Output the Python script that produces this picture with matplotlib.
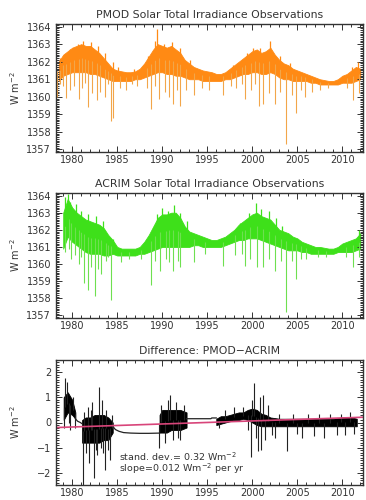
import numpy as np
import matplotlib
matplotlib.use("Agg")
import matplotlib.pyplot as plt
from matplotlib.ticker import MultipleLocator

# ---- data (W m^-2), half-year envelope of the daily record ----
pmod_years = np.arange(1978.5, 2012.01, 0.5)
pmod_hi = [1362.0, 1362.4, 1362.6, 1362.8, 1362.9, 1363.0, 1362.9, 1362.9, 1362.7, 1362.5,
           1362.2, 1361.9, 1361.6, 1361.5, 1361.45, 1361.4, 1361.4, 1361.45, 1361.6, 1361.9,
           1362.3, 1362.7, 1363.0, 1362.9, 1362.8, 1362.9, 1362.7, 1362.5, 1362.1, 1361.9,
           1361.7, 1361.6, 1361.5, 1361.45, 1361.4, 1361.3, 1361.3, 1361.4, 1361.6, 1361.8,
           1362.0, 1362.2, 1362.4, 1362.6, 1362.7, 1362.5, 1362.6, 1362.8, 1362.4, 1362.1,
           1361.9, 1361.8, 1361.6, 1361.5, 1361.4, 1361.3, 1361.2, 1361.1, 1361.0, 1360.95,
           1360.9, 1360.9, 1361.0, 1361.2, 1361.3, 1361.5, 1361.7, 1361.6]
pmod_lo = [1360.9, 1361.2, 1361.3, 1361.4, 1361.4, 1361.4, 1361.4, 1361.3, 1361.3, 1361.2,
           1361.1, 1361.0, 1360.9, 1360.9, 1360.9, 1360.9, 1360.9, 1361.0, 1361.0, 1361.1,
           1361.2, 1361.3, 1361.4, 1361.4, 1361.3, 1361.3, 1361.2, 1361.2, 1361.1, 1361.0,
           1361.0, 1361.0, 1360.9, 1360.9, 1360.9, 1360.9, 1360.9, 1361.0, 1361.0, 1361.1,
           1361.2, 1361.3, 1361.3, 1361.4, 1361.4, 1361.3, 1361.3, 1361.4, 1361.3, 1361.1,
           1361.0, 1361.0, 1360.9, 1360.9, 1360.9, 1360.9, 1360.8, 1360.8, 1360.7, 1360.7,
           1360.7, 1360.7, 1360.7, 1360.8, 1360.8, 1360.8, 1360.9, 1361.0]
pmod_dip_t = [1978.3, 1978.6, 1979.0, 1979.3, 1979.8, 1980.2, 1980.7, 1981.1, 1981.4, 1981.8,
              1982.2, 1982.7, 1983.1, 1983.6, 1984.0, 1984.3, 1984.5, 1985.3, 1986.0, 1986.6,
              1987.2, 1988.3, 1988.7, 1989.2, 1989.6, 1990.3, 1990.8, 1991.2, 1991.6, 1992.0,
              1992.6, 1993.5, 1994.4, 1995.2, 1996.8, 1997.6, 1998.2, 1998.8, 1999.2, 1999.8,
              2000.3, 2000.7, 2001.2, 2001.8, 2002.5, 2003.1, 2003.7, 2004.4, 2004.9, 2005.4,
              2005.8, 2006.6, 2007.5, 2008.4, 2010.5, 2011.2, 2011.9]
pmod_dip_v = [1360.0, 1360.7, 1360.6, 1359.95, 1360.4, 1360.6, 1359.9, 1360.5, 1360.8, 1359.4,
              1360.2, 1359.8, 1360.3, 1360.0, 1360.7, 1358.6, 1358.8, 1360.5, 1360.4, 1360.7,
              1360.6, 1360.5, 1359.3, 1360.6, 1359.9, 1360.3, 1360.0, 1359.6, 1360.4, 1359.5,
              1360.4, 1360.1, 1360.5, 1360.4, 1360.1, 1360.6, 1360.5, 1360.7, 1359.9, 1360.4,
              1360.7, 1359.5, 1359.6, 1360.2, 1359.6, 1360.3, 1357.3, 1360.1, 1359.1, 1360.4,
              1360.0, 1360.3, 1360.4, 1360.5, 1360.5, 1359.8, 1360.2]
pmod_peak_t = [1978.6, 1979.7, 1980.6, 1981.2, 1982.1, 1982.9, 1983.6, 1984.5, 1985.1, 1986.9,
               1988.4, 1989.2, 1989.45, 1990.2, 1991.1, 1992.0, 1993.1, 1997.9, 1999.4, 2000.1,
               2000.9, 2002.0, 2003.1, 2004.2, 2011.1, 2011.7]
pmod_peak_v = [1362.2, 1362.7, 1363.0, 1363.2, 1363.1, 1362.9, 1362.5, 1362.0, 1361.7, 1361.6,
               1362.3, 1363.2, 1363.85, 1363.0, 1363.1, 1362.8, 1362.1, 1361.8, 1362.5, 1362.8,
               1362.8, 1363.2, 1362.3, 1361.9, 1361.7, 1362.0]

acrim_years = np.arange(1979.0, 2012.01, 0.5)
acrim_hi = [1363.0, 1363.8, 1363.3, 1363.0, 1362.8, 1362.6, 1362.5, 1362.4, 1362.3, 1362.1,
            1361.7, 1361.4, 1361.0, 1360.9, 1360.9, 1360.9, 1360.9, 1361.0, 1361.3, 1361.7,
            1362.2, 1362.7, 1362.9, 1362.9, 1363.0, 1363.0, 1362.7, 1362.2, 1361.9, 1361.8,
            1361.7, 1361.6, 1361.5, 1361.4, 1361.4, 1361.5, 1361.6, 1361.8, 1362.0, 1362.3,
            1362.5, 1362.7, 1362.9, 1363.0, 1362.8, 1362.7, 1362.6, 1362.3, 1362.0, 1361.9,
            1361.8, 1361.6, 1361.5, 1361.3, 1361.2, 1361.1, 1361.0, 1361.0, 1360.95, 1360.9,
            1360.9, 1361.0, 1361.2, 1361.3, 1361.4, 1361.5, 1361.8]
acrim_lo = [1360.9, 1361.6, 1361.3, 1361.1, 1360.9, 1360.7, 1360.6, 1360.6, 1360.6, 1360.5,
            1360.5, 1360.6, 1360.5, 1360.5, 1360.5, 1360.5, 1360.5, 1360.6, 1360.6, 1360.7,
            1360.8, 1360.9, 1361.0, 1361.0, 1361.0, 1361.0, 1361.0, 1361.0, 1361.0, 1361.1,
            1361.1, 1361.0, 1361.0, 1361.0, 1361.0, 1361.0, 1361.1, 1361.2, 1361.3, 1361.4,
            1361.4, 1361.5, 1361.5, 1361.5, 1361.4, 1361.3, 1361.2, 1361.1, 1361.0, 1360.9,
            1360.8, 1360.8, 1360.8, 1360.7, 1360.7, 1360.6, 1360.6, 1360.6, 1360.6, 1360.6,
            1360.6, 1360.7, 1360.7, 1360.7, 1360.7, 1360.8, 1360.9]
acrim_dip_t = [1979.2, 1979.6, 1979.9, 1980.3, 1980.7, 1981.0, 1981.3, 1981.8, 1982.1, 1982.5,
               1982.9, 1983.2, 1983.7, 1984.0, 1984.3, 1985.4, 1986.3, 1987.6, 1988.7, 1989.2,
               1989.7, 1990.4, 1990.8, 1991.2, 1991.7, 1992.0, 1993.5, 1994.8, 1996.8, 1998.1,
               1998.8, 1999.2, 1999.7, 2000.5, 2001.2, 2001.9, 2002.5, 2003.2, 2003.7, 2004.4,
               2004.9, 2005.4, 2006.0, 2007.3, 2008.2, 2010.4, 2011.2, 2011.8]
acrim_dip_v = [1360.7, 1360.9, 1360.3, 1360.5, 1360.0, 1360.4, 1358.9, 1358.5, 1359.8, 1358.15,
               1359.7, 1359.4, 1360.2, 1360.4, 1357.9, 1360.1, 1360.3, 1360.3, 1358.8, 1360.2,
               1359.6, 1360.3, 1360.1, 1359.6, 1360.2, 1359.8, 1360.1, 1360.6, 1359.9, 1360.5,
               1360.6, 1359.9, 1360.3, 1359.8, 1359.8, 1360.3, 1359.6, 1360.2, 1357.2, 1360.2,
               1359.1, 1360.3, 1360.3, 1360.4, 1360.4, 1360.4, 1359.8, 1360.4]
acrim_peak_t = [1979.2, 1979.5, 1979.8, 1980.4, 1981.0, 1981.7, 1982.6, 1983.4, 1984.5, 1989.4,
                1990.0, 1990.6, 1991.3, 1992.0, 1992.8, 1998.6, 1999.6, 2000.4, 2001.0, 2001.8,
                2002.6, 2003.3, 2011.8]
acrim_peak_v = [1363.9, 1364.1, 1363.6, 1363.5, 1363.1, 1362.9, 1362.8, 1362.5, 1361.45, 1362.9,
                1363.3, 1363.1, 1363.45, 1363.0, 1362.5, 1362.4, 1363.0, 1363.55, 1363.2, 1363.1,
                1362.7, 1362.2, 1362.0]

# difference PMOD-ACRIM: noisy stretches (envelope) and the quiet, smoothed stretches
diff_noisy_t = [[1979.05, 1979.5, 1980.0, 1980.35],
                [1981.1, 1981.5, 1982.0, 1982.5, 1983.0, 1983.5, 1984.0, 1984.5],
                [1989.7, 1990.0, 1990.5, 1991.0, 1991.5, 1992.0, 1992.7],
                [1996.0, 1996.5, 1997.0, 1997.5, 1998.0, 1998.5, 1999.0, 1999.5, 2000.0,
                 2000.5, 2001.0, 2001.5, 2002.0, 2003.0, 2004.0, 2005.0, 2006.0, 2007.0,
                 2008.0, 2009.0, 2010.0, 2011.0, 2011.6]]
diff_noisy_hi = [[1.0, 1.2, 0.9, 0.4],
                 [0.1, 0.2, 0.2, 0.3, 0.3, 0.3, 0.2, 0.0],
                 [0.3, 0.5, 0.5, 0.5, 0.5, 0.5, 0.4],
                 [0.15, 0.25, 0.25, 0.3, 0.35, 0.4, 0.4, 0.5, 0.55, 0.5, 0.35, 0.3, 0.2,
                  0.15, 0.15, 0.15, 0.15, 0.15, 0.15, 0.15, 0.2, 0.2, 0.15]]
diff_noisy_lo = [[0.1, 0.4, 0.3, 0.15],
                 [-0.8, -0.8, -0.8, -0.8, -0.8, -0.7, -0.7, -0.4],
                 [-0.4, -0.4, -0.4, -0.3, -0.3, -0.3, -0.2],
                 [-0.1, -0.05, 0.0, 0.05, 0.1, 0.1, 0.15, 0.1, 0.0, -0.1, -0.15, -0.15, -0.15,
                  -0.15, -0.15, -0.15, -0.15, -0.15, -0.15, -0.15, -0.15, -0.15, -0.15]]
diff_quiet_t = [[1980.35, 1980.6, 1980.9, 1981.1],
                [1984.5, 1984.8, 1985.2, 1985.7, 1986.5, 1987.5, 1988.5, 1989.7],
                [1992.7, 1995.4, 1995.5, 1996.0]]
diff_quiet_v = [[0.15, 0.05, 0.0, -0.05],
                [-0.15, -0.28, -0.35, -0.4, -0.42, -0.43, -0.43, -0.42],
                [0.15, 0.15, 0.18, 0.18]]
diff_spike_t = [1979.1, 1979.2, 1979.4, 1979.6, 1979.8, 1980.1, 1980.3, 1981.2, 1981.35, 1981.5,
                1981.7, 1981.9, 1982.1, 1982.2, 1982.4, 1982.6, 1982.8, 1983.0, 1983.15, 1983.3,
                1983.45, 1983.6, 1983.8, 1984.0, 1984.2, 1984.4,
                1989.6, 1989.9, 1990.3, 1990.6, 1990.9, 1991.2, 1991.5, 1991.8, 1992.0, 1992.4,
                1996.3, 1997.0, 1998.0, 1999.0, 1999.5, 1999.8, 2000.0, 2000.2, 2000.4, 2000.6,
                2000.8, 2001.0, 2001.2, 2001.4, 2001.7, 2002.2, 2002.5, 2003.0, 2003.8, 2004.5,
                2005.0, 2005.5, 2006.2, 2006.8, 2007.4, 2008.0, 2008.6, 2009.4, 2009.9, 2010.3,
                2010.8, 2011.3]
diff_spike_v = [-0.2, 1.75, 1.6, 0.0, -0.3, 1.0, -0.2, -2.5, 0.4, -1.2,
                0.6, -1.6, 0.5, 0.8, -2.2, -1.1, -1.3, 1.4, -1.0, 0.9,
                -1.2, -1.9, 0.5, -1.1, -1.5, 0.3,
                -1.0, 0.7, -0.8, 0.9, 1.1, -0.7, 0.8, -0.6, -0.7, 0.7,
                -0.2, 0.5, 0.6, 0.6, -0.3, -1.35, 0.9, 1.56, -0.6, -1.15,
                1.0, -1.1, 1.1, -0.7, 0.7, -0.5, -0.6, 0.35, -1.15, 0.35,
                -0.45, -0.6, 0.35, -0.55, 0.35, -0.6, 0.35, -0.5, 0.35, -0.5,
                0.4, -0.45]
diff_slope = 0.012      # W m^-2 per yr
diff_intercept = -0.2   # value at 1978.2 where the fit line enters the panel

orange, orange_lt = "#ff8a14", "#f2a64a"
green, green_lt = "#3ee01a", "#6ee050"
pink = "#d8457a"
ink = "#333333"

plt.rcParams["font.family"] = ["DejaVu Sans"]
fig = plt.figure(figsize=(3.66, 5.0), dpi=100)


def style(ax, ylim, ymajor):
    ax.set_xlim(1978.2, 2012.3)
    ax.set_ylim(*ylim)
    ax.xaxis.set_major_locator(MultipleLocator(5))
    ax.xaxis.set_minor_locator(MultipleLocator(1))
    ax.yaxis.set_major_locator(MultipleLocator(ymajor))
    ax.yaxis.set_minor_locator(MultipleLocator(0.1))
    ax.tick_params(which="both", direction="in", top=True, right=True,
                   colors=ink, labelsize=7, width=0.7)
    ax.tick_params(which="major", length=4.5)
    ax.tick_params(which="minor", length=2)
    ax.tick_params(axis="x", pad=2.5)
    for s in ax.spines.values():
        s.set_color(ink)
        s.set_linewidth(1.0)
    ax.set_ylabel("W m$^{-2}$", fontsize=7, color=ink)
    ax.yaxis.set_label_coords(-0.11, 0.5)


def tsi_panel(rect, title, yrs, hi, lo, dt, dv, pt, pv, col, col_lt):
    ax = fig.add_axes(rect)
    mid = (np.asarray(hi) + np.asarray(lo)) / 2
    ax.vlines(dt, dv, np.interp(dt, yrs, mid), color=col_lt, lw=0.8)
    ax.fill_between(yrs, lo, hi, color=col, lw=0.6, edgecolor=col)
    ax.vlines(pt, np.interp(pt, yrs, mid), pv, color=col, lw=0.9)
    style(ax, (1356.85, 1364.15), 1)
    ax.set_title(title, fontsize=7.8, color=ink, pad=4)
    return ax


tsi_panel([0.153, 0.696, 0.839, 0.256], "PMOD Solar Total Irradiance Observations",
          pmod_years, pmod_hi, pmod_lo, pmod_dip_t, pmod_dip_v, pmod_peak_t, pmod_peak_v,
          orange, orange_lt)
tsi_panel([0.153, 0.364, 0.839, 0.250], "ACRIM Solar Total Irradiance Observations",
          acrim_years, acrim_hi, acrim_lo, acrim_dip_t, acrim_dip_v, acrim_peak_t, acrim_peak_v,
          green, green_lt)

ax3 = fig.add_axes([0.153, 0.030, 0.839, 0.250])
for t, v in zip(diff_quiet_t, diff_quiet_v):
    ax3.plot(t, v, color="#222222", lw=0.9)
all_t, all_mid = [], []
for t, h, l in zip(diff_noisy_t, diff_noisy_hi, diff_noisy_lo):
    ax3.fill_between(t, l, h, color="black", lw=0.6, edgecolor="black")
    all_t += t
    all_mid += list((np.asarray(h) + np.asarray(l)) / 2)
ax3.vlines(diff_spike_t, diff_spike_v, np.interp(diff_spike_t, all_t, all_mid),
           color="#222222", lw=0.8)
fit_t = np.array([1978.2, 2012.3])
ax3.plot(fit_t, diff_intercept + diff_slope * (fit_t - fit_t[0]), color=pink, lw=1.2)
style(ax3, (-2.48, 2.48), 1)
ax3.set_yticks([-2, -1, 0, 1, 2], ["\u22122", "\u22121", "0", "1", "2"])
ax3.set_title("Difference: PMOD\u2212ACRIM", fontsize=7.8, color=ink, pad=4)
ax3.text(1985.2, -1.35, "stand. dev.= 0.32 Wm$^{-2}$", fontsize=6.8, color=ink, va="center")
ax3.text(1985.2, -1.85, "slope=0.012 Wm$^{-2}$ per yr", fontsize=6.8, color=ink, va="center")

fig.savefig("out.png", dpi=100)
